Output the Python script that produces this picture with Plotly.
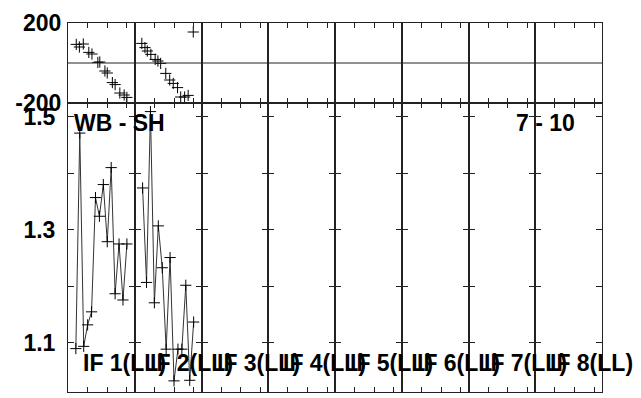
import plotly.graph_objects as go
from plotly.subplots import make_subplots

# ---- data ----
bottom_x = [2, 3, 4, 5, 6, 7, 8, 9, 10, 11, 12, 13, 14, 15]
bottom_col1 = [1.090, 1.471, 1.094, 1.132, 1.155, 1.357, 1.324, 1.380, 1.279, 1.410, 1.187, 1.275, 1.176, 1.275]
bottom_col2 = [1.374, 1.207, 1.509, 1.171, 1.307, 1.233, 1.089, 1.251, 1.033, 1.089, 1.089, 1.202, 1.034, 1.137]

top_col1_x = [2.1, 2.9, 3.9, 5.3, 6.1, 7.6, 8.1, 9.4, 10.0, 11.3, 12.0, 13.2, 14.3, 15.0]
top_col1_y = [93, 80, 95, 53, 45, 3, 5, -40, -50, -98, -108, -150, -160, -172]
top_col2_x = [1.8, 2.6, 3.2, 4.1, 5.2, 5.9, 6.6, 7.9, 8.9, 9.8, 10.9, 11.7, 12.7, 13.6, 14.9]
top_col2_y = [98, 77, 60, 43, 18, 10, -2, -52, -85, -102, -123, -170, -170, -162, 155]

column_labels = ["IF 1(LL)", "IF 2(LL)", "IF 3(LL)", "IF 4(LL)",
                 "IF 5(LL)", "IF 6(LL)", "IF 7(LL)", "IF 8(LL)"]
left_title = "WB - SH"
right_title = "7 - 10"
top_ticks = [-200, 200]
bottom_ticks = [1.1, 1.2, 1.3, 1.4, 1.5]
bottom_ticktext = ["1.1", "", "1.3", "", "1.5"]

N_COLS = 8
FONT = "Liberation Sans, Arial, sans-serif"
AX = "#222222"

fig = make_subplots(rows=2, cols=N_COLS, horizontal_spacing=0, vertical_spacing=0,
                    row_heights=[80 / 369, 289 / 369])

cross = dict(symbol="cross-thin", size=8, line=dict(color="black", width=1))

# top panel points
fig.add_trace(go.Scatter(x=top_col1_x, y=top_col1_y, mode="markers", marker=cross), row=1, col=1)
fig.add_trace(go.Scatter(x=top_col2_x, y=top_col2_y, mode="markers", marker=cross), row=1, col=2)
# bottom panel lines
for c, vals in ((1, bottom_col1), (2, bottom_col2)):
    fig.add_trace(go.Scatter(x=bottom_x, y=vals, mode="lines+markers",
                             line=dict(color="#333333", width=1), marker=cross),
                  row=2, col=c)
# empty panels (no data) so that their frames are drawn
for c in range(3, N_COLS + 1):
    for r in (1, 2):
        fig.add_trace(go.Scatter(x=[None], y=[None], mode="markers", hoverinfo="skip"),
                      row=r, col=c)

for c in range(1, N_COLS + 1):
    for r in (1, 2):
        fig.update_xaxes(row=r, col=c, range=[0, 17], tickvals=[5, 10, 15], ticks="inside",
                         ticklen=5, tickcolor=AX, showticklabels=False, showline=True,
                         linecolor=AX, linewidth=1, mirror="ticks", showgrid=False, zeroline=False,
                         automargin=False)
    fig.update_yaxes(row=1, col=c, range=[-200, 200], tickvals=top_ticks,
                     ticktext=[str(v) for v in top_ticks], ticks="", showticklabels=(c == 1),
                     showline=True, linecolor=AX, linewidth=1, mirror=True, showgrid=False,
                     zeroline=False, automargin=False,
                     tickfont=dict(family=FONT, size=23, color="black", weight="bold"),
                     ticklabelstandoff=1)
    fig.update_yaxes(row=2, col=c, range=[1.0133, 1.5242], tickvals=bottom_ticks,
                     ticktext=bottom_ticktext, ticks="inside", ticklen=6, tickcolor=AX,
                     showticklabels=(c == 1), showline=True, linecolor=AX, linewidth=1,
                     mirror="ticks", showgrid=False, zeroline=False, automargin=False,
                     tickfont=dict(family=FONT, size=23, color="black", weight="bold"),
                     ticklabelstandoff=7)
    # midline at zero in the top panel
    fig.add_hline(y=0, line=dict(color=AX, width=1), row=1, col=c)

W = 534.0
H = 369.0


def px_x(p):
    return (p - 68) / W


def px_y(p):
    return (392 - p) / H


ann_font = dict(family=FONT, size=23, color="black", weight="bold")
annotations = [
    dict(text=left_title, x=px_x(72), y=px_y(123), xref="paper", yref="paper",
         xanchor="left", yanchor="middle", showarrow=False, font=ann_font),
    dict(text=right_title, x=px_x(514), y=px_y(123), xref="paper", yref="paper",
         xanchor="left", yanchor="middle", showarrow=False, font=ann_font),
]
for k, lab in enumerate(column_labels):
    annotations.append(dict(text=lab, x=px_x(81 + 66.75 * k), y=px_y(362.5), xref="paper",
                            yref="paper", xanchor="left", yanchor="middle", showarrow=False,
                            font=ann_font))

fig.update_layout(width=641, height=398, margin=dict(l=68, r=39, t=23, b=6, autoexpand=False),
                  paper_bgcolor="white", plot_bgcolor="white", showlegend=False,
                  annotations=annotations)

fig.write_html("out.html", config={"displayModeBar": False},
               post_script="document.body.style.margin='0px';"
                           "document.documentElement.style.overflow='hidden';")
